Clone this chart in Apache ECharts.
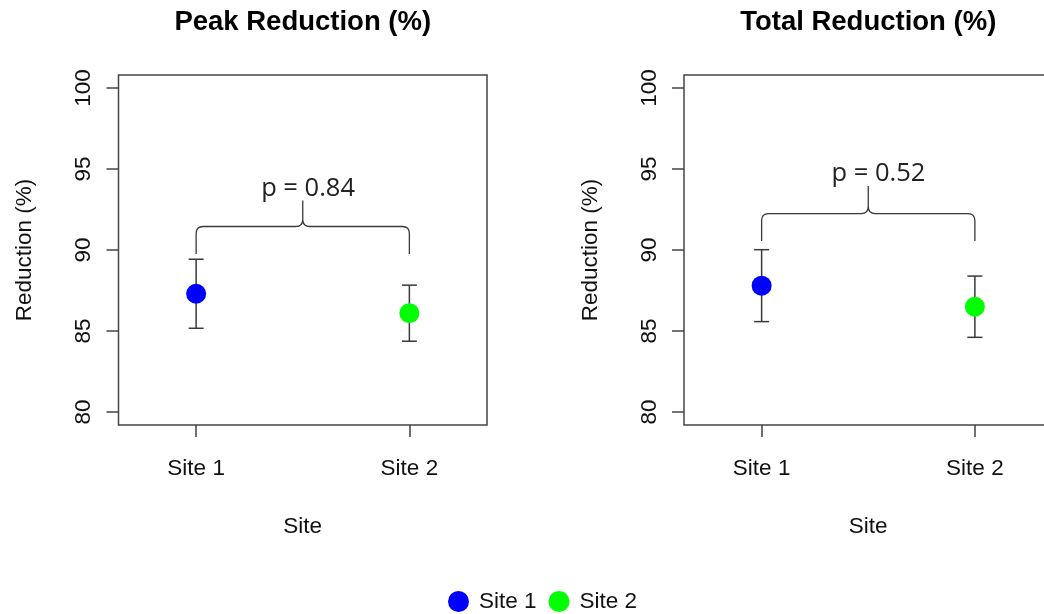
<!DOCTYPE html>
<html>
<head>
<meta charset="utf-8">
<script src="https://cdn.jsdelivr.net/npm/echarts@6/dist/echarts.min.js"></script>
<style>
  html, body { margin: 0; padding: 0; background: #fff; }
  #chart { width: 1044px; height: 614px; }
</style>
</head>
<body>
<div id="chart"></div>
<script>
// Sites compared in both panels
const sites = ['Site 1', 'Site 2'];
const siteColors = ['#0000FF', '#00FF00'];

// Panel titles
const panelTitles = ['Peak Reduction (%)', 'Total Reduction (%)'];

// Mean reduction (%) per site and half-width of the error bar
const peakMeans = [87.3, 86.1];
const peakErrors = [2.13, 1.73];
const totalMeans = [87.8, 86.5];
const totalErrors = [2.22, 1.89];

// Significance annotation: p-value text and brace levels [ends, bar, tip]
const pValues = ['p = 0.84', 'p = 0.52'];
const peakBrace = [89.75, 91.45, 93.05];
const totalBrace = [90.55, 92.25, 93.95];
const pLabelX = [1.525, 1.548];

// Axis ticks
const yTicks = [80, 85, 90, 95, 100];
const xTicks = [1, 2];

const panels = [
  { means: peakMeans, errors: peakErrors, brace: peakBrace },
  { means: totalMeans, errors: totalErrors, brace: totalBrace }
];

const FONT = '"Liberation Sans", Arial, sans-serif';
const AXIS_FS = 22.5;
const INK = '#3a3a3a';

const gridLefts = [118.5, 684];
const gridWidth = 368.5;

const chart = echarts.init(document.getElementById('chart'), null, { renderer: 'canvas' });

const grids = gridLefts.map(l => ({
  left: l, top: 75, width: gridWidth, height: 350,
  show: true, borderColor: '#444', borderWidth: 1.5, backgroundColor: 'transparent',
  containLabel: false, outerBoundsMode: 'none'
}));

const xAxes = gridLefts.map((_, p) => ({
  type: 'value', gridIndex: p, min: 0.636, max: 2.364,
  name: 'Site', nameLocation: 'middle', nameGap: 90,
  nameTextStyle: { fontFamily: FONT, fontSize: AXIS_FS, color: '#111' },
  axisLine: { show: false },
  splitLine: { show: false },
  axisTick: { show: true, customValues: xTicks, length: 12, inside: false,
              lineStyle: { color: '#444', width: 1.5 } },
  axisLabel: { customValues: xTicks, margin: 32, fontFamily: FONT, fontSize: AXIS_FS, color: '#111',
               formatter: v => sites[Math.round(v) - 1] || '' }
}));

const yAxes = gridLefts.map((_, p) => ({
  type: 'value', gridIndex: p, min: 79.2, max: 100.8,
  name: 'Reduction (%)', nameLocation: 'middle', nameGap: 82,
  nameTextStyle: { fontFamily: FONT, fontSize: AXIS_FS, color: '#111' },
  axisLine: { show: false },
  splitLine: { show: false },
  axisTick: { show: true, customValues: yTicks, length: 12,
              lineStyle: { color: '#444', width: 1.5 } },
  axisLabel: { customValues: yTicks, rotate: 90, margin: 23, fontFamily: FONT, fontSize: AXIS_FS, color: '#111' }
}));

const series = [];

panels.forEach((panel, p) => {
  // error bars: vertical whisker with horizontal caps
  series.push({
    type: 'custom', xAxisIndex: p, yAxisIndex: p, z: 2, silent: true,
    data: panel.means.map((m, i) => [i + 1, m - panel.errors[i], m + panel.errors[i]]),
    encode: { x: 0, y: [1, 2] },
    renderItem: (params, api) => {
      const x = api.value(0);
      const lo = api.coord([x, api.value(1)]);
      const hi = api.coord([x, api.value(2)]);
      const cap = 7.5;
      const style = { stroke: INK, lineWidth: 1.5 };
      return {
        type: 'group',
        children: [
          { type: 'line', shape: { x1: lo[0], y1: lo[1], x2: hi[0], y2: hi[1] }, style },
          { type: 'line', shape: { x1: hi[0] - cap, y1: hi[1], x2: hi[0] + cap, y2: hi[1] }, style },
          { type: 'line', shape: { x1: lo[0] - cap, y1: lo[1], x2: lo[0] + cap, y2: lo[1] }, style }
        ]
      };
    }
  });

  // mean points, one series per site so the legend can refer to them
  sites.forEach((s, i) => {
    series.push({
      type: 'scatter', name: s, xAxisIndex: p, yAxisIndex: p, z: 3,
      symbol: 'circle', symbolSize: 20,
      itemStyle: { color: siteColors[i], opacity: 1 },
      data: [[i + 1, panel.means[i]]]
    });
  });

  // curly brace joining the two sites, with the p-value above it
  series.push({
    type: 'custom', xAxisIndex: p, yAxisIndex: p, z: 4, silent: true,
    data: [[xTicks[0], xTicks[1], panel.brace[0], panel.brace[1], panel.brace[2], pLabelX[p]]],
    encode: { x: [0, 1], y: [2, 3, 4] },
    renderItem: (params, api) => {
      const x1 = api.value(0), x2 = api.value(1);
      const xm = (x1 + x2) / 2;
      const a = api.coord([x1, api.value(2)]);
      const b = api.coord([x1, api.value(3)]);
      const c = api.coord([x2, api.value(3)]);
      const d = api.coord([x2, api.value(2)]);
      const tip = api.coord([xm, api.value(4)]);
      const mid = api.coord([xm, api.value(3)]);
      const lab = api.coord([api.value(5), api.value(4)]);
      const r = 7;
      const path =
        'M' + a[0] + ' ' + a[1] +
        ' L' + b[0] + ' ' + (b[1] + r) +
        ' Q' + b[0] + ' ' + b[1] + ' ' + (b[0] + r) + ' ' + b[1] +
        ' L' + (mid[0] - r) + ' ' + mid[1] +
        ' Q' + mid[0] + ' ' + mid[1] + ' ' + mid[0] + ' ' + (mid[1] - r) +
        ' L' + tip[0] + ' ' + tip[1] +
        ' M' + mid[0] + ' ' + (mid[1] - r) +
        ' Q' + mid[0] + ' ' + mid[1] + ' ' + (mid[0] + r) + ' ' + mid[1] +
        ' L' + (c[0] - r) + ' ' + c[1] +
        ' Q' + c[0] + ' ' + c[1] + ' ' + c[0] + ' ' + (c[1] + r) +
        ' L' + d[0] + ' ' + d[1];
      return {
        type: 'group',
        children: [
          { type: 'path', shape: { pathData: path },
            style: { stroke: INK, lineWidth: 1.3, fill: null } },
          { type: 'text', x: lab[0], y: lab[1] - 12,
            style: { text: pValues[p], fontFamily: '"Open Sans", sans-serif', fontSize: 25.5,
                     fill: '#222', align: 'center', verticalAlign: 'middle' } }
        ]
      };
    }
  });
});

const option = {
  backgroundColor: '#fff',
  animation: false,
  title: panelTitles.map((t, p) => ({
    text: t, left: gridLefts[p] + gridWidth / 2, top: 8, textAlign: 'center', padding: 0,
    textStyle: { fontFamily: FONT, fontSize: 27.5, fontWeight: 'bold', color: '#000' }
  })),
  legend: {
    data: sites, left: 448, top: 590, orient: 'horizontal', padding: 0,
    icon: 'circle', itemWidth: 21, itemHeight: 21, itemGap: 12,
    textStyle: { fontFamily: FONT, fontSize: AXIS_FS, color: '#111', padding: [0, 0, 0, 5] }
  },
  grid: grids,
  xAxis: xAxes,
  yAxis: yAxes,
  series
};

chart.setOption(option);
</script>
</body>
</html>
